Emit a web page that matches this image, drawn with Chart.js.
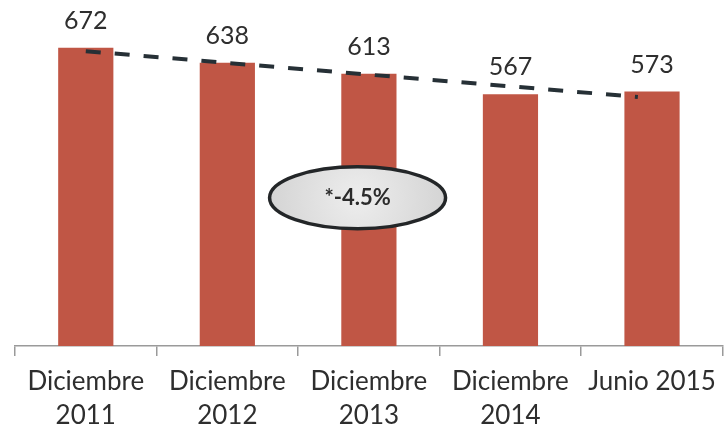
<!DOCTYPE html>
<html>
<head>
<meta charset="utf-8">
<script src="https://cdn.jsdelivr.net/npm/chart.js@4.4.0/dist/chart.umd.min.js"></script>
<style>
  html, body { margin: 0; padding: 0; background: #ffffff; }
  canvas { display: block; }
</style>
</head>
<body>
<canvas id="c" width="725" height="429"></canvas>
<script>
// Period labels (two-line where needed) and headcount per period
const categories = [['Diciembre', '2011'], ['Diciembre', '2012'], ['Diciembre', '2013'], ['Diciembre', '2014'], 'Junio 2015'];
const values = [672, 638, 613, 567, 573];

// Trend line: start/end positions (category index) and values
const trendX = [0, 3.9];
const trendY = [664, 561];

// Callout with the average annual change
const calloutText = '*-4.5%';
const calloutX = 1.92;
const calloutY = 334;

const FONT = 'Lato, "Open Sans", sans-serif';
const BAR_DATASET = 1;

const overlay = {
  id: 'overlay',
  afterDatasetsDraw(chart) {
    const ctx = chart.ctx;
    // value labels above each bar
    const meta = chart.getDatasetMeta(BAR_DATASET);
    ctx.save();
    ctx.font = '25px ' + FONT;
    ctx.fillStyle = '#2e2e2e';
    ctx.textAlign = 'center';
    ctx.textBaseline = 'alphabetic';
    meta.data.forEach((bar, i) => {
      ctx.fillText(String(values[i]), bar.x, bar.y - 19);
    });
    ctx.restore();

    // oval callout
    const cx = chart.scales.xt.getPixelForValue(calloutX);
    const cy = chart.scales.y.getPixelForValue(calloutY);
    const rx = 88, ry = 31;
    ctx.save();
    const g = ctx.createRadialGradient(cx, cy, 5, cx, cy, rx);
    g.addColorStop(0, '#ececec');
    g.addColorStop(1, '#d4d4d4');
    ctx.beginPath();
    ctx.ellipse(cx, cy, rx, ry, 0, 0, Math.PI * 2);
    ctx.fillStyle = g;
    ctx.fill();
    ctx.lineWidth = 3.5;
    ctx.strokeStyle = '#232628';
    ctx.stroke();
    ctx.font = 'bold 22px ' + FONT;
    ctx.fillStyle = '#2b2b2b';
    ctx.textAlign = 'center';
    ctx.textBaseline = 'middle';
    ctx.fillText(calloutText, cx, cy);
    ctx.restore();
  }
};

new Chart(document.getElementById('c'), {
  data: {
    labels: categories,
    datasets: [
      {
        type: 'line',
        xAxisID: 'xt',
        yAxisID: 'y',
        data: trendX.map((x, i) => ({ x: x, y: trendY[i] })),
        borderColor: '#263036',
        borderWidth: 4,
        borderDash: [15, 14],
        pointRadius: 0,
        fill: false,
        order: 0
      },
      {
        type: 'bar',
        xAxisID: 'x',
        yAxisID: 'y',
        data: values,
        backgroundColor: '#c05645',
        grouped: false,
        barPercentage: 0.78,
        categoryPercentage: 0.5,
        order: 1
      }
    ]
  },
  options: {
    responsive: false,
    devicePixelRatio: 1,
    animation: false,
    layout: { padding: { top: 13, left: 15, right: 2, bottom: 0 } },
    plugins: { legend: { display: false }, tooltip: { enabled: false } },
    scales: {
      x: {
        type: 'category',
        offset: true,
        border: { display: true, color: '#9a9a9a', width: 1.5 },
        grid: { display: true, drawOnChartArea: false, drawTicks: true, tickLength: 10, color: '#9a9a9a', lineWidth: 1.5, offset: true },
        ticks: {
          autoSkip: false,
          maxRotation: 0,
          padding: 9,
          color: '#2e2e2e',
          font: { family: FONT, size: 26, lineHeight: '34px' }
        },
        afterFit(scale) { scale.height = 83; }
      },
      xt: {
        type: 'linear',
        display: false,
        min: -0.5,
        max: 4.5,
        offset: false
      },
      y: {
        display: false,
        min: 0,
        max: 750
      }
    }
  },
  plugins: [overlay]
});
</script>
</body>
</html>
